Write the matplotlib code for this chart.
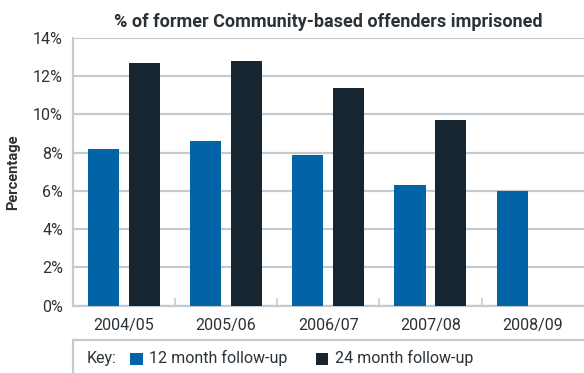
import matplotlib
matplotlib.use("Agg")
import matplotlib.pyplot as plt
import numpy as np
from matplotlib.patches import Rectangle

# Data
years = ["2004/05", "2005/06", "2006/07", "2007/08", "2008/09"]
follow_12 = [8.2, 8.6, 7.9, 6.3, 6.0]
follow_24 = [12.7, 12.8, 11.4, 9.7, np.nan]
series_names = ["12 month follow-up", "24 month follow-up"]
y_ticks = [0, 2, 4, 6, 8, 10, 12, 14]

BLUE = "#0064a6"
DARK = "#172530"
GRID = "#c3cad1"
TEXT = "#2a3238"

plt.rcParams["font.family"] = ["Roboto", "DejaVu Sans"]

W, H = 584, 373
fig = plt.figure(figsize=(W / 100, H / 100), dpi=100)
ax = fig.add_axes([72.7 / W, 1 - 305.7 / H, (583.7 - 72.7) / W, (305.7 - 38) / H])

x = np.arange(len(years))
width = 0.305
ax.bar(x - 0.2, follow_12, width, color=BLUE, zorder=3)
ax.bar(x + 0.2, follow_24, width, color=DARK, zorder=3)

ax.set_xlim(-0.5, len(years) - 0.5)
ax.set_ylim(0, 14)
ax.set_yticks(y_ticks)
ax.set_yticklabels([f"{v}%" for v in y_ticks], fontsize=11.5, color=TEXT)
ax.yaxis.grid(True, color=GRID, linewidth=1.6, zorder=0)
ax.tick_params(axis="y", length=0, pad=7)

ax.set_xticks(x)
ax.set_xticklabels(years, fontsize=11.5, color=TEXT)
ax.set_xticks(np.arange(len(years) - 1) + 0.5, minor=True)
ax.tick_params(axis="x", which="major", length=0, pad=9)
ax.tick_params(axis="x", which="minor", direction="in", length=6, width=1.2, color=GRID)

for side in ("top", "right"):
    ax.spines[side].set_visible(False)
for side in ("left", "bottom"):
    ax.spines[side].set_color(GRID)
    ax.spines[side].set_linewidth(1.6)

ax.set_ylabel("Percentage", fontsize=10.5, fontweight="bold", color=TEXT, labelpad=9)
ax.set_title("% of former Community-based offenders imprisoned", fontsize=13,
             fontweight="bold", color=TEXT, pad=8)

# Key box along the bottom
fig.patches.append(Rectangle((72.7 / W, -0.05), 1, (373 - 340) / H + 0.05,
                             transform=fig.transFigure, facecolor="none",
                             edgecolor=GRID, linewidth=1.6))
ky = 1 - 358 / H
fig.text(87 / W, ky, "Key:", fontsize=11.5, color=TEXT, va="center", ha="left")
sq = 12.5
for x0, col, name in [(130, BLUE, series_names[0]), (315.7, DARK, series_names[1])]:
    fig.patches.append(Rectangle((x0 / W, 1 - 365 / H), sq / W, sq / H,
                                 transform=fig.transFigure, facecolor=col,
                                 edgecolor="none"))
    fig.text((x0 + 19) / W, ky, name, fontsize=11.5, color=TEXT, va="center", ha="left")

fig.savefig("out.png", dpi=100)
